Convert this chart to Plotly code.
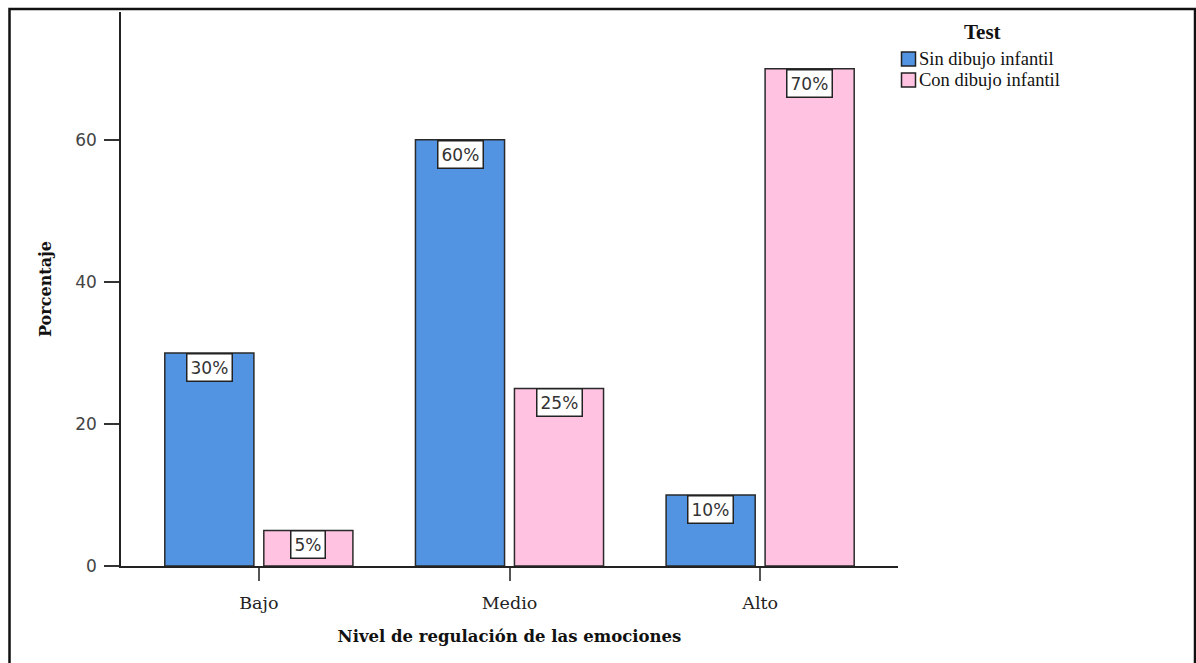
import plotly.graph_objects as go

# Datos: porcentaje de estudiantes por nivel de regulación emocional
niveles = ["Bajo", "Medio", "Alto"]
sin_dibujo = [30, 60, 10]
con_dibujo = [5, 25, 70]
serie_nombres = ["Sin dibujo infantil", "Con dibujo infantil"]
y_ticks = [0, 20, 40, 60]

colores = ["#5294E2", "#FFC2E0"]
serif = "DejaVu Serif, Liberation Serif, serif"
times = "Liberation Serif, Times New Roman, serif"
sans = "DejaVu Sans, Verdana, sans-serif"

W, H = 1196, 663
M_L, M_R, M_T, M_B = 121, 298, 12, 97
BARGAP, BARGROUPGAP = 0.21, 0.10
Y_MAX = 78

fig = go.Figure()
for nombre, valores, color in zip(serie_nombres, [sin_dibujo, con_dibujo], colores):
    fig.add_trace(go.Bar(
        x=niveles, y=valores, name=nombre,
        marker=dict(color=color, line=dict(color="#2a2a2a", width=1.5)),
    ))

# Etiquetas con recuadro blanco en el borde superior de cada barra
slot = (1 - BARGAP) / 2
for k, valores in enumerate([sin_dibujo, con_dibujo]):
    offset = (k - 0.5) * slot
    for i, v in enumerate(valores):
        fig.add_annotation(
            x=i + offset, y=v, xref="x", yref="y",
            text=f"{v}%", showarrow=False, yanchor="top",
            font=dict(family=sans, size=17, color="#333333"),
            bgcolor="white", bordercolor="#222222", borderwidth=1.5, borderpad=3,
        )

# Conversión de píxeles de la figura a coordenadas "paper"
pw, ph = W - M_L - M_R, H - M_T - M_B
def px_x(x):
    return (x - M_L) / pw
def px_y(y):
    return (H - M_B - y) / ph

# Leyenda dibujada a mano: título centrado, cuadros con borde y texto
fig.add_annotation(xref="paper", yref="paper", x=px_x(982), y=px_y(32),
                   text="<b>Test</b>", showarrow=False, xanchor="center", yanchor="middle",
                   font=dict(family=times, size=21, color="#111111"))
for j, (nombre, color) in enumerate(zip(serie_nombres, colores)):
    yc = 59 + 21 * j
    fig.add_shape(type="rect", xref="paper", yref="paper",
                  x0=px_x(901.5), x1=px_x(915.5), y0=px_y(yc + 7), y1=px_y(yc - 7),
                  fillcolor=color, line=dict(color="#222222", width=1.5))
    fig.add_annotation(xref="paper", yref="paper", x=px_x(917), y=px_y(yc),
                       text=nombre, showarrow=False, xanchor="left", yanchor="middle",
                       font=dict(family=times, size=18.5, color="#111111"))

# Marco exterior de la figura
fig.add_shape(type="rect", xref="paper", yref="paper",
              x0=px_x(9.5), x1=px_x(1195), y0=px_y(680), y1=px_y(9),
              line=dict(color="#111111", width=2.5), layer="above")

fig.update_layout(
    width=W, height=H,
    margin=dict(l=M_L, r=M_R, t=M_T, b=M_B, autoexpand=False),
    paper_bgcolor="white", plot_bgcolor="white",
    barmode="group", bargap=BARGAP, bargroupgap=BARGROUPGAP,
    showlegend=False,
    xaxis=dict(
        type="category", range=[-0.55, 2.55],
        showline=True, linecolor="#222222", linewidth=1.5,
        ticks="outside", ticklen=13, tickcolor="#555555", tickwidth=1.5,
        ticklabelstandoff=7,
        tickfont=dict(family=serif, size=17.5, color="#222222"),
        showgrid=False, zeroline=False,
        title=dict(text="<b>Nivel de regulación de las emociones</b>",
                   font=dict(family=serif, size=16.5, color="#111111"), standoff=19),
    ),
    yaxis=dict(
        range=[0, Y_MAX], tickvals=y_ticks,
        showline=True, linecolor="#222222", linewidth=1.5,
        ticks="outside", ticklen=15, tickcolor="#333333", tickwidth=1.5,
        ticklabelstandoff=4,
        tickfont=dict(family=sans, size=17, color="#444444"),
        showgrid=False, zeroline=False,
        title=dict(text="<b>Porcentaje</b>",
                   font=dict(family=serif, size=16, color="#111111"), standoff=20),
    ),
)

fig.write_html("out.html")
